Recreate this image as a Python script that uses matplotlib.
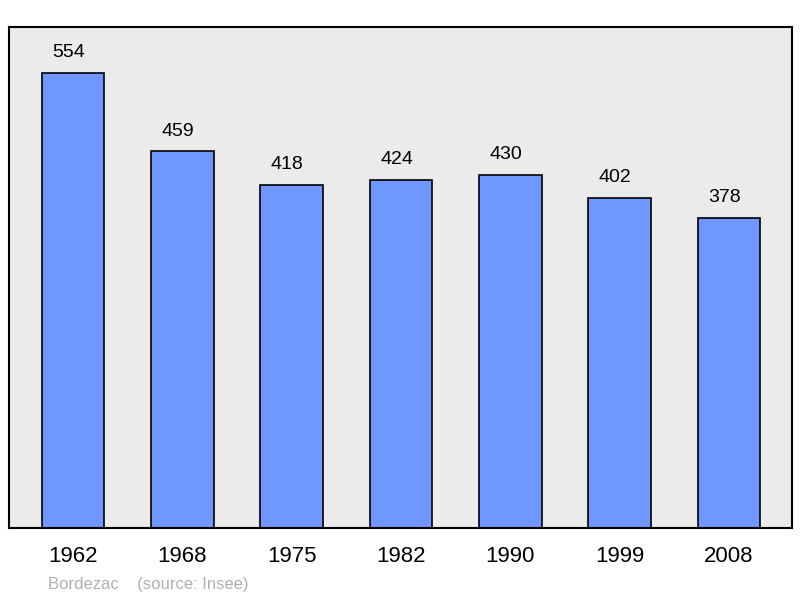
import matplotlib
matplotlib.use("Agg")
import matplotlib.pyplot as plt

years = ["1962", "1968", "1975", "1982", "1990", "1999", "2008"]
population = [554, 459, 418, 424, 430, 402, 378]

plt.rcParams['font.family'] = ['Liberation Sans', 'DejaVu Sans']
fig = plt.figure(figsize=(8, 5.98), dpi=100)
ax = fig.add_axes([9/800, 1-528/598, 783/800, 501/598])
ax.set_facecolor('#ebebeb')
x = list(range(len(years)))
ax.bar(x, population, width=0.575, color='#7096ff', edgecolor='black', linewidth=1.2, zorder=2)
for xi, v in zip(x, population):
    ax.text(xi - 0.04, v + 14, str(v), ha='center', va='bottom', fontsize=14)
ax.set_xlim(-0.585, 6.576)
ax.set_ylim(0, 610)
ax.set_yticks([])
ax.set_xticks(x)
ax.set_xticklabels(years, fontsize=16)
ax.tick_params(axis='x', length=0, pad=13)
for s in ax.spines.values():
    s.set_linewidth(1.5)
fig.text(48/800, 1-584/598, "Bordezac    (source: Insee)", color='#b0b0b0', fontsize=12, va='center')
fig.savefig("out.png", dpi=100)
